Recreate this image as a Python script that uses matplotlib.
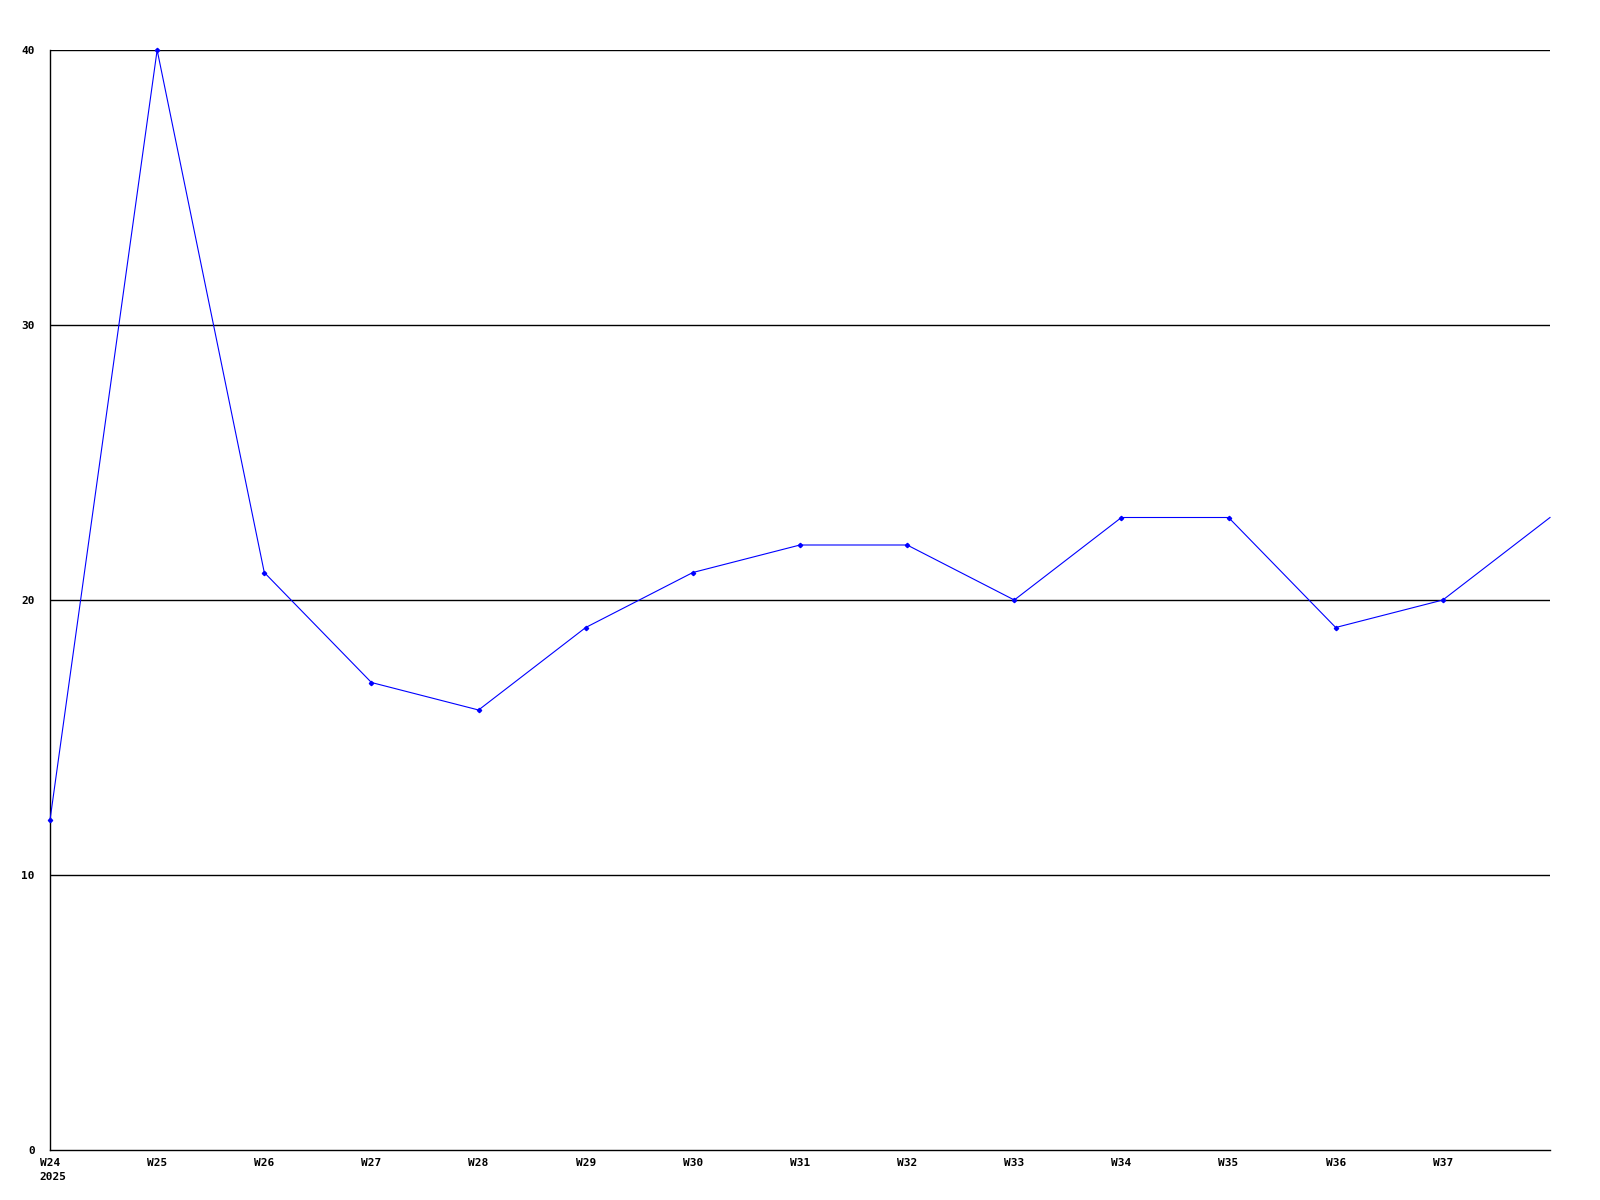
import matplotlib
matplotlib.use('Agg')
import matplotlib.pyplot as plt

weeks = ['W24', 'W25', 'W26', 'W27', 'W28', 'W29', 'W30', 'W31',
         'W32', 'W33', 'W34', 'W35', 'W36', 'W37', 'W38']
values = [12, 40, 21, 17, 16, 19, 21, 22, 22, 20, 23, 23, 19, 20, 23]
yticks = [0, 10, 20, 30, 40]

fig = plt.figure(figsize=(16, 12), dpi=100)
ax = fig.add_axes([50/1600, 1-1150/1200, 1500/1600, 1100/1200])

xs = list(range(len(weeks)))
ax.plot(xs, values, color='#0000ff', lw=0.8, marker='D', ms=2.2, mec='#0000ff', mfc='#0000ff',
        markevery=list(range(len(weeks) - 1)), zorder=3, clip_on=False)

for y in yticks[1:]:
    ax.axhline(y, color='black', lw=1.0, zorder=1)

ax.set_xlim(0, len(weeks) - 1)
ax.set_ylim(0, 40)
ax.set_yticks(yticks)
ax.set_yticklabels([str(y) for y in yticks])
ax.set_xticks(xs[:-1])
ax.set_xticklabels(weeks[:-1])
ax.tick_params(length=0, labelsize=8)
ax.tick_params(axis='y', pad=11)
ax.tick_params(axis='x', pad=6)
for lab in ax.get_xticklabels() + ax.get_yticklabels():
    lab.set_fontfamily('DejaVu Sans Mono')
    lab.set_fontweight('bold')

for s in ['top', 'right']:
    ax.spines[s].set_visible(False)
for s in ['left', 'bottom']:
    ax.spines[s].set_linewidth(1.0)
    ax.spines[s].set_color('black')

fig.text(39/1600, 1-1177/1200, '2025', fontsize=8, fontfamily='DejaVu Sans Mono',
         fontweight='bold', ha='left', va='center')

fig.savefig('out.png', dpi=100)
